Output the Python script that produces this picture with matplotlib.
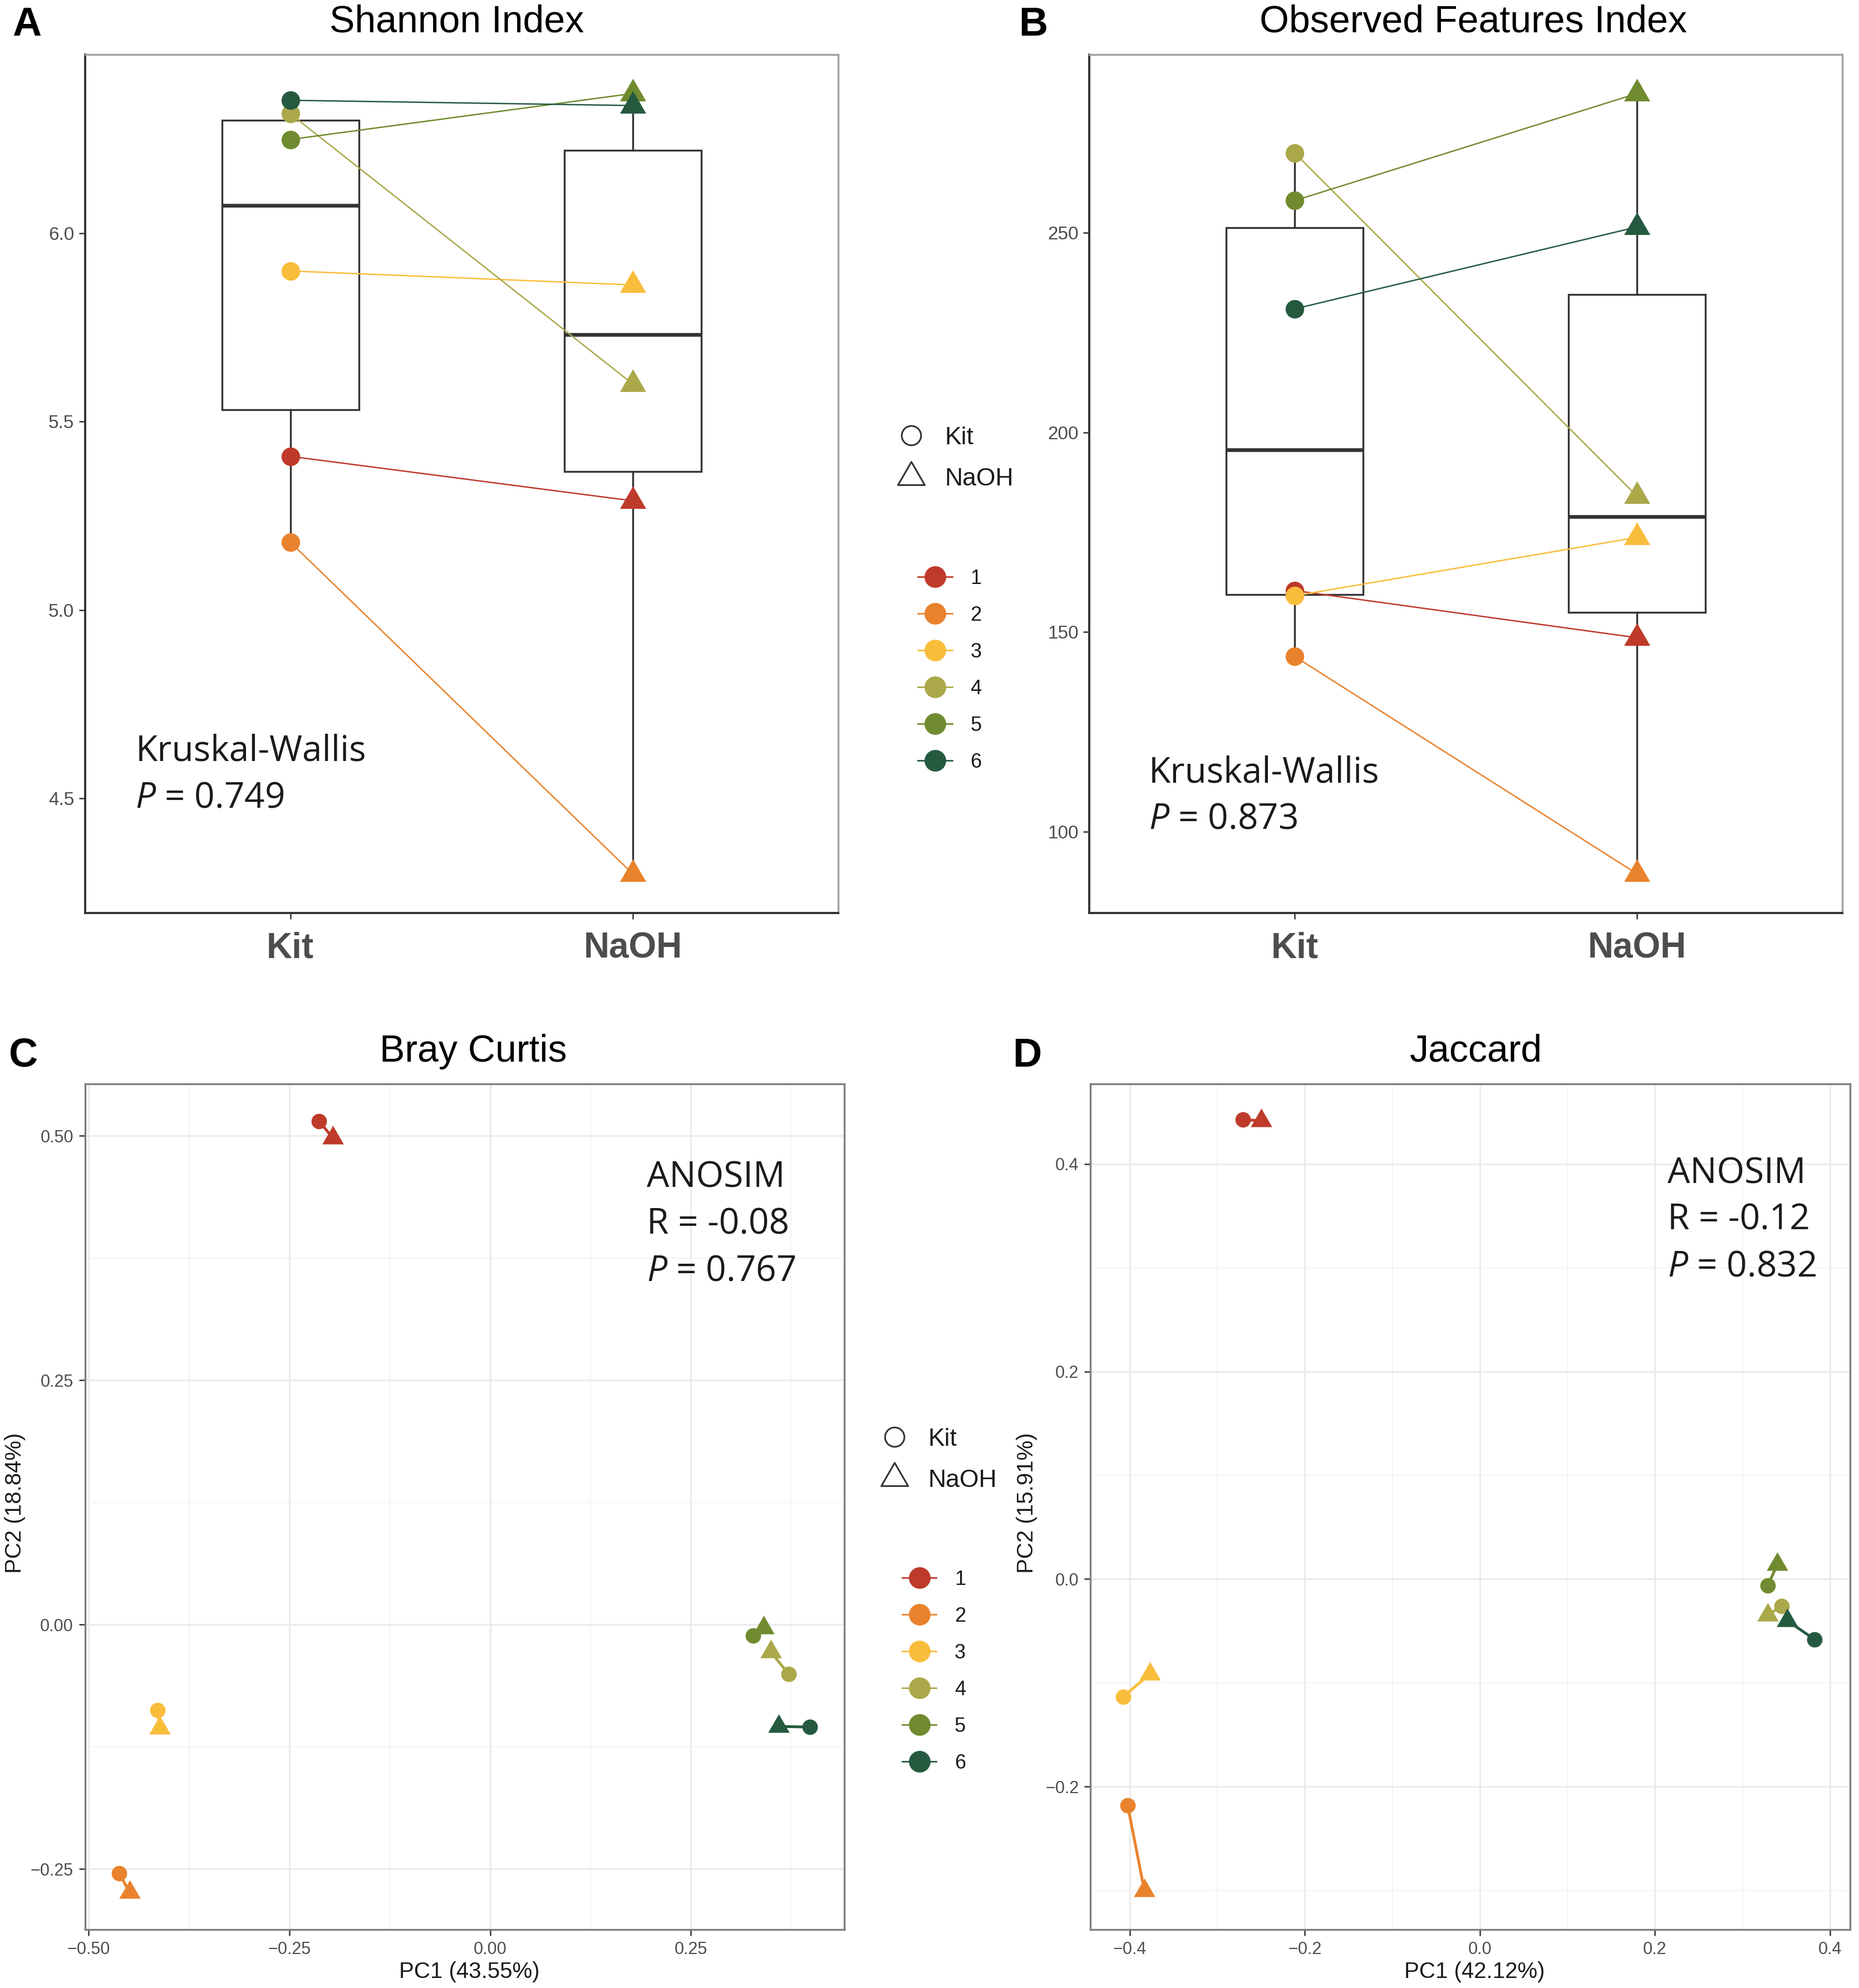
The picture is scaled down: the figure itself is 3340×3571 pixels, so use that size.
import matplotlib
matplotlib.use("Agg")
import matplotlib.pyplot as plt
from matplotlib.lines import Line2D
from matplotlib.path import Path
from matplotlib.ticker import FuncFormatter, MultipleLocator, AutoMinorLocator
from matplotlib import font_manager

# ---- data ----
subjects = ['1', '2', '3', '4', '5', '6']
subject_colors = ['#BE3A2A', '#E9822C', '#F9BD3C', '#ABA84A', '#708B2F', '#255A40']
methods = ['Kit', 'NaOH']

shannon_kit = [5.408, 5.180, 5.900, 6.317, 6.249, 6.353]
shannon_naoh = [5.290, 4.300, 5.863, 5.600, 6.371, 6.339]

observed_kit = [160.4, 143.9, 159.1, 269.9, 258.0, 230.9]
observed_naoh = [148.6, 89.5, 173.7, 184.0, 284.8, 251.4]

bray_kit_pc1 = [-0.213, -0.462, -0.414, 0.372, 0.3275, 0.398]
bray_kit_pc2 = [0.515, -0.2545, -0.0877, -0.0506, -0.0113, -0.1047]
bray_naoh_pc1 = [-0.196, -0.449, -0.4116, 0.3497, 0.341, 0.3594]
bray_naoh_pc2 = [0.498, -0.2738, -0.1058, -0.0279, -0.003, -0.104]

jac_kit_pc1 = [-0.271, -0.4025, -0.4077, 0.345, 0.329, 0.3826]
jac_kit_pc2 = [0.4427, -0.218, -0.1135, -0.026, -0.0062, -0.0583]
jac_naoh_pc1 = [-0.250, -0.3835, -0.377, 0.329, 0.340, 0.351]
jac_naoh_pc2 = [0.4417, -0.300, -0.0915, -0.0347, 0.0142, -0.040]

# ---- fonts ----
names = {f.name for f in font_manager.fontManager.ttflist}
if 'Liberation Sans Narrow' in names:
    cat_family, cat_size = 'Liberation Sans Narrow', 26
else:
    cat_family, cat_size = 'Liberation Sans', 23

plt.rcParams['font.family'] = ['Liberation Sans', 'DejaVu Sans']
plt.rcParams['mathtext.fontset'] = 'custom'
plt.rcParams['mathtext.it'] = 'Open Sans:italic'
plt.rcParams['mathtext.rm'] = 'Open Sans'

TICK_COL = '#4D4D4D'
DARK = '#333333'

# equilateral triangle, centred on its centroid (closed so the outline is complete)
TRI = Path([(-1, -0.577), (1, -0.577), (0, 1.155), (-1, -0.577)], closed=True)


def minus_fmt(fmt):
    return FuncFormatter(lambda v, pos: (fmt % v).replace('-', '\u2212'))


fig = plt.figure(figsize=(16.7, 17.855), dpi=200)


def box_panel(ax, kit, naoh, ticks, fmt, label_txt):
    ax.boxplot([kit, naoh], positions=[1, 2], widths=0.4, whis=1.5,
               showfliers=False, showcaps=False, patch_artist=True,
               boxprops=dict(facecolor='white', edgecolor=DARK, linewidth=1.2),
               whiskerprops=dict(color=DARK, linewidth=1.2),
               medianprops=dict(color=DARK, linewidth=2.4))
    for i in range(len(subjects)):
        ax.plot([1, 2], [kit[i], naoh[i]], color=subject_colors[i], lw=0.9, zorder=3)
        ax.plot(1, kit[i], 'o', color=subject_colors[i], ms=12, mew=0, zorder=4)
        ax.plot(2, naoh[i], marker=TRI, color=subject_colors[i], ms=19.5, mew=0, zorder=4)
    lo = min(kit + naoh)
    hi = max(kit + naoh)
    pad = 0.05 * (hi - lo)
    ax.set_ylim(lo - pad, hi + pad)
    ax.set_xlim(0.4, 2.6)
    ax.set_xticks([1, 2])
    ax.set_xticklabels(methods, fontfamily=cat_family, fontweight='bold',
                       fontsize=cat_size, color=TICK_COL)
    ax.set_yticks(ticks)
    ax.yaxis.set_major_formatter(minus_fmt(fmt))
    ax.tick_params(axis='y', labelsize=12, labelcolor=TICK_COL, color=DARK,
                   length=4, width=0.9, pad=3)
    ax.tick_params(axis='x', color=DARK, length=4, width=0.9, pad=8)
    for s in ['left', 'bottom']:
        ax.spines[s].set_color(DARK)
        ax.spines[s].set_linewidth(1.4)
    for s in ['top', 'right']:
        ax.spines[s].set_color('#A0A0A0')
        ax.spines[s].set_linewidth(1.2)
    ax.text(label_txt[0], label_txt[1], 'Kruskal-Wallis\n' + label_txt[2],
            transform=ax.transAxes, fontfamily='Open Sans', fontsize=23,
            va='center', ha='left', linespacing=1.4, color='#1A1A1A')


def pcoa_panel(ax, kx, ky, nx, ny, xlim, ylim, xstep, ystep, fmt, txt):
    for i in range(len(subjects)):
        ax.plot([kx[i], nx[i]], [ky[i], ny[i]], color=subject_colors[i], lw=1.8, zorder=3)
        ax.plot(kx[i], ky[i], 'o', color=subject_colors[i], ms=10, mew=0, zorder=4)
        ax.plot(nx[i], ny[i], marker=TRI, color=subject_colors[i], ms=16, mew=0, zorder=4)
    ax.set_xlim(*xlim)
    ax.set_ylim(*ylim)
    ax.xaxis.set_major_locator(MultipleLocator(xstep))
    ax.yaxis.set_major_locator(MultipleLocator(ystep))
    ax.xaxis.set_minor_locator(AutoMinorLocator(2))
    ax.yaxis.set_minor_locator(AutoMinorLocator(2))
    ax.xaxis.set_major_formatter(minus_fmt(fmt))
    ax.yaxis.set_major_formatter(minus_fmt(fmt))
    ax.grid(which='major', color='#EBEBEB', lw=1.1, zorder=0)
    ax.grid(which='minor', color='#F2F2F2', lw=0.6, zorder=0)
    ax.set_axisbelow(True)
    ax.tick_params(which='major', labelsize=11, labelcolor=TICK_COL, color=DARK,
                   length=4, width=0.9, pad=3.5)
    ax.tick_params(which='minor', length=0)
    for s in ax.spines.values():
        s.set_color('#7F7F7F')
        s.set_linewidth(1.2)
    ax.text(txt[0], txt[1], 'ANOSIM\n' + txt[2] + '\n' + txt[3],
            transform=ax.transAxes, fontfamily='Open Sans', fontsize=23,
            va='center', ha='left', linespacing=1.4, color='#1A1A1A')


def add_legends(x_shape, y_shape, x_col, y_col):
    shape_handles = [
        Line2D([], [], ls='none', marker='o', ms=12.5, mfc='none', mec=DARK, mew=1.1),
        Line2D([], [], ls='none', marker=TRI, ms=20, mfc='none', mec=DARK, mew=1.1),
    ]
    fig.legend(shape_handles, methods, loc='center left',
               bbox_to_anchor=(x_shape, y_shape), frameon=False, fontsize=16,
               handlelength=1.5, handletextpad=0.6, labelspacing=0.75,
               borderpad=0, borderaxespad=0, labelcolor='#1A1A1A')
    col_handles = [Line2D([], [], color=c, lw=1.0, marker='o', ms=14, mew=0)
                   for c in subject_colors]
    fig.legend(col_handles, subjects, loc='center left',
               bbox_to_anchor=(x_col, y_col), frameon=False, fontsize=13,
               handlelength=1.7, handletextpad=0.9, labelspacing=0.86,
               borderpad=0, borderaxespad=0, labelcolor='#1A1A1A')


# ---- A ----
axA = fig.add_axes([0.0457, 0.5408, 0.4052, 0.4318])
box_panel(axA, shannon_kit, shannon_naoh, [4.5, 5.0, 5.5, 6.0], '%.1f',
          (0.067, 0.161, '$P$ = 0.749'))

# ---- B ----
axB = fig.add_axes([0.5860, 0.5408, 0.4051, 0.4318])
box_panel(axB, observed_kit, observed_naoh, [100, 150, 200, 250], '%d',
          (0.079, 0.136, '$P$ = 0.873'))

# ---- C ----
axC = fig.add_axes([0.0457, 0.0293, 0.4086, 0.4254])
pcoa_panel(axC, bray_kit_pc1, bray_kit_pc2, bray_naoh_pc1, bray_naoh_pc2,
           (-0.5047, 0.4415), (-0.312, 0.553), 0.25, 0.25, '%.2f',
           (0.7396, 0.834, 'R = -0.08', '$P$ = 0.767'))

# ---- D ----
axD = fig.add_axes([0.5866, 0.0293, 0.4086, 0.4254])
pcoa_panel(axD, jac_kit_pc1, jac_kit_pc2, jac_naoh_pc1, jac_naoh_pc2,
           (-0.445, 0.423), (-0.338, 0.477), 0.2, 0.2, '%.1f',
           (0.7596, 0.839, 'R = -0.12', '$P$ = 0.832'))

# titles and panel letters
fig.text(0.2456, 0.9839, 'Shannon Index', fontsize=24.5, ha='center', va='baseline')
fig.text(0.7926, 0.9839, 'Observed Features Index', fontsize=24.5, ha='center', va='baseline')
fig.text(0.2545, 0.4661, 'Bray Curtis', fontsize=24.5, ha='center', va='baseline')
fig.text(0.7940, 0.4661, 'Jaccard', fontsize=24.5, ha='center', va='baseline')

for x, y, s in [(0.0065, 0.982, 'A'), (0.548, 0.982, 'B'),
                (0.0048, 0.4635, 'C'), (0.5446, 0.4635, 'D')]:
    fig.text(x, y, s, fontsize=26, fontweight='bold', ha='left', va='baseline')

# PCoA axis labels
fig.text(0.2524, 0.005, 'PC1 (43.55%)', fontsize=14.5, color='#1A1A1A', ha='center', va='baseline')
fig.text(0.7933, 0.005, 'PC1 (42.12%)', fontsize=14.5, color='#1A1A1A', ha='center', va='baseline')
fig.text(0.0082, 0.2441, 'PC2 (18.84%)', fontsize=14.5, color='#1A1A1A', rotation=90,
         ha='center', va='center')
fig.text(0.5525, 0.2441, 'PC2 (15.91%)', fontsize=14.5, color='#1A1A1A', rotation=90,
         ha='center', va='center')

# legends
add_legends(0.4802, 0.7694, 0.4938, 0.6628)
add_legends(0.4713, 0.2657, 0.4853, 0.1593)

fig.savefig('out.png', dpi=200)
